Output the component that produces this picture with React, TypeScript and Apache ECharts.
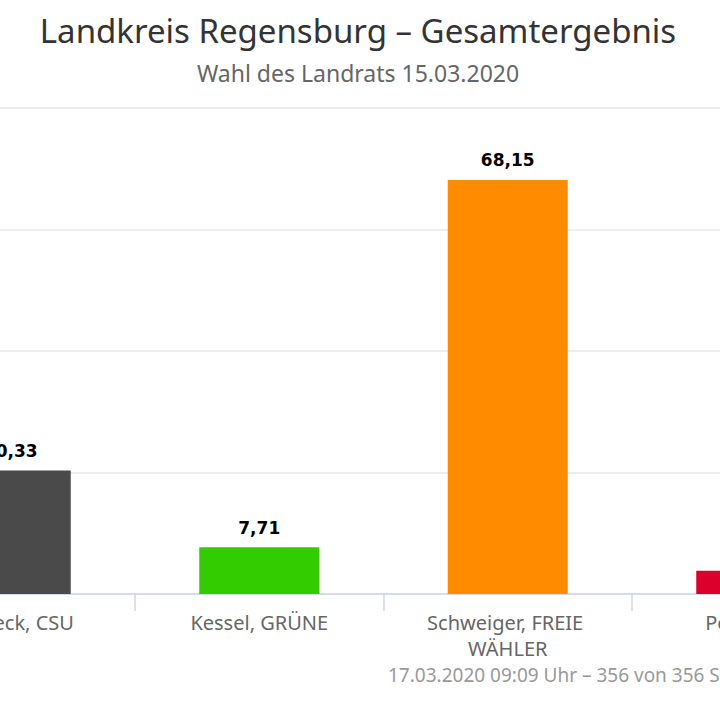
import React, { useEffect, useRef } from 'react';
import * as echarts from 'echarts';

// Landratswahl Landkreis Regensburg 15.03.2020
const candidates = ['Bruneck, CSU', 'Kessel, GRÜNE', 'Schweiger, FREIE WÄHLER', 'Pöppl, SPD'];
const shares = [20.33, 7.71, 68.15, 3.81];
const barColors = ['#4a4a4a', '#33cc00', '#ff8c00', '#dc002d'];
const yTicks = [0, 20, 40, 60, 80];

const FONT = '"Noto Sans", "DejaVu Sans", sans-serif';

// the picture only shows a middle crop of a wider chart
const OFFSET_LEFT = 180;
const CHART_W = 1076;

const App: React.FC = () => {
    const chartRef = useRef<HTMLDivElement>(null);

    useEffect(() => {
        if (!chartRef.current) return;
        const chart = echarts.init(chartRef.current, undefined, { renderer: 'svg' });
        const option = {
            animation: false,
            title: {
                text: 'Landkreis Regensburg – Gesamtergebnis',
                subtext: 'Wahl des Landrats 15.03.2020',
                left: 'center',
                top: 9,
                itemGap: 14,
                textStyle: { fontFamily: FONT, fontSize: 33, fontWeight: 'normal', color: '#333333' },
                subtextStyle: { fontFamily: FONT, fontSize: 23, color: '#666666' },
            },
            grid: { left: 66.5, right: 15.5, top: 108, bottom: 126 },
            xAxis: {
                type: 'category',
                data: candidates,
                axisLine: { lineStyle: { color: '#ccd6eb', width: 1.5 } },
                axisTick: { show: true, interval: 0, length: 17, lineStyle: { color: '#ccd6eb', width: 1.5 } },
                axisLabel: {
                    interval: 0,
                    fontFamily: FONT,
                    fontSize: 20,
                    color: '#666666',
                    margin: 15,
                    lineHeight: 26,
                    width: 200,
                    overflow: 'break',
                },
            },
            yAxis: {
                type: 'value',
                min: yTicks[0],
                max: yTicks[yTicks.length - 1],
                interval: 20,
                axisLabel: { show: false },
                splitLine: { lineStyle: { color: '#e6e6e6', width: 1.5 } },
            },
            series: [
                {
                    type: 'bar',
                    barWidth: 120,
                    data: shares.map((v, i) => ({ value: v, itemStyle: { color: barColors[i] } })),
                    label: {
                        show: true,
                        position: 'top',
                        distance: 11,
                        fontFamily: '"DejaVu Sans", sans-serif',
                        fontSize: 17,
                        fontWeight: 'bold',
                        color: '#000000',
                        formatter: (p: any) => Number(p.value).toFixed(2).replace('.', ','),
                    },
                },
            ],
            graphic: [
                {
                    type: 'text',
                    left: 388 + OFFSET_LEFT,
                    top: 665,
                    style: {
                        text: '17.03.2020 09:09 Uhr – 356 von 356 Stimmbezirken',
                        fontFamily: FONT,
                        fontSize: 19,
                        fill: '#999999',
                    },
                },
            ],
        };
        chart.setOption(option);
        return () => {
            chart.dispose();
        };
    }, []);

    return (
        <div style={{ position: 'fixed', left: 0, top: 0, width: 720, height: 720, overflow: 'hidden', background: '#fff' }}>
            <div
                ref={chartRef}
                style={{ position: 'absolute', left: -OFFSET_LEFT, top: 0, width: CHART_W, height: 720 }}
            />
        </div>
    );
};

export default App;
